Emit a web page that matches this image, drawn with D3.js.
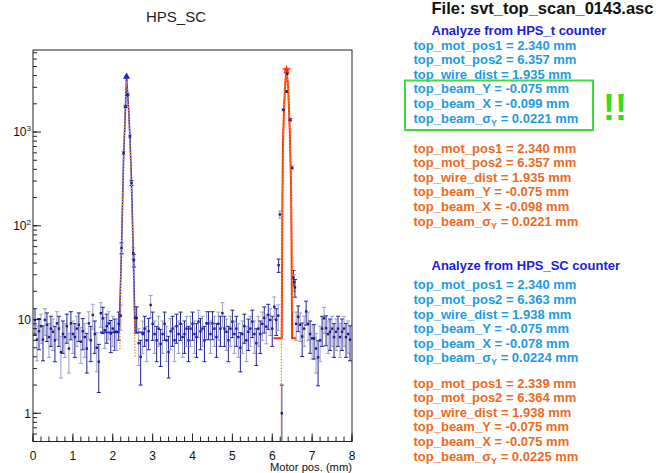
<!DOCTYPE html>
<html><head><meta charset="utf-8">
<script src="https://cdn.jsdelivr.net/npm/d3@7"></script>
<style>
html,body{margin:0;padding:0;background:#fff;}
svg{display:block;font-family:"Liberation Sans",Arial,Helvetica,sans-serif;}
</style></head>
<body>
<svg id="c" width="656" height="473"></svg>
<script>
// ---------------- DATA ----------------
const chartTitle = "HPS_SC";
const xAxisTitle = "Motor pos. (mm)";
const fileTitle = "File: svt_top_scan_0143.asc";
const xTickValues = [0,1,2,3,4,5,6,7,8];
const yTickValues = [1,10,100,1000];
const yTickBase = ["1","10","10","10"];
const yTickExp  = ["","","2","3"];
const scanStep = 0.05;

// baseline scan counts (HPS_SC), regular motor steps
const base1Start = 0.05;
const base1Counts = [9.9,6.1,7.5,8.5,6.1,9.9,8.8,6.5,8,7.4,6,9.1,8,4.5,7,6.5,8.5,4.9,9.1,7,6.5,8,8.8,5.8,7.5,6.5,4.9,9.1,6,11.2,7,5,3.55,11.7,10.3,7.7,8.5,9.1,7.1,8,7.4,7.4,9];
const base2Start = 2.60;
const base2Counts = [10.4,5.6,4.0,7,8,6,7.5,14.3,9,7,6,8,5.5,7,9,6,4.5,7.5,8,6,8.5,7,9,6.5,7,8,6,8,9,7,6.5,9.5,7.5,8,6,9.1,9.1,7,9.1,8,6.5,9,8,11.7,8,7.4,6,8,9.5,7,8,6.5,5,7,8.5,6,7.4,8,9.5,7,5.6,8,7,9,10.4,8.4,11.2,9.9,8,13.7,9.9,11];
const base3Start = 6.60;
const base3Counts = [9,10.7,8.8,6.6,8,12.2,9,7,6.3,6.3,4.9,3.95,6,8,10.3,8.1,7,7.4,8,6.5,7.4,8,6.5,7.4,8,6.5,7,6.1];

// points in the peak regions
const peak1Pos    = [2.20,2.22,2.27,2.32,2.345,2.37,2.43,2.47,2.515,2.53,2.56];
const peak1Counts = [11,58,600,1870,3900,2500,900,286,51,43,10.4];
const peak2Pos    = [6.16,6.19,6.24,6.28,6.36,6.375,6.45,6.50,6.53,6.55,6.57];
const peak2Counts = [38,132,1,1726,2700,4200,1350,415,28,25,22];

// fit curves
const blueFitX = [1.68,2.157,2.19,2.22,2.27,2.32,2.345,2.37,2.40,2.43,2.46,2.49,2.515,2.54,2.558,2.575,2.81];
const blueFitY = [7.3,7.3,20,58,500,1870,3900,2700,1700,900,400,140,51,18,7.5,7.3,7.3];
const redFitX = [6.03,6.237,6.245,6.255,6.27,6.30,6.33,6.36,6.40,6.44,6.47,6.485,6.493,6.50,6.60];
const redFitY = [6.3,6.3,30,200,800,2000,3500,4600,3000,1000,300,60,15,6.3,6.3];
const orange1X = [2.18,2.185,2.22,2.28,2.32,2.34,2.37,2.41,2.45,2.48,2.51,2.54,2.56];
const orange1Y = [4.8,16,60,700,2300,3500,2700,1300,450,160,50,12,4];
const orange2X = [6.225,6.23,6.245,6.26,6.29,6.33,6.36,6.40,6.44,6.47,6.49,6.50,6.505];
const orange2Y = [0.3,6,40,250,1200,3500,4300,3000,1100,350,80,30,12];

// text panel
const headingT = "Analyze from HPS_t counter";
const headingSC = "Analyze from HPS_SC counter";
const labelsT_cyan   = ["top_mot_pos1 = 2.340 mm","top_mot_pos2 = 6.357 mm","top_wire_dist = 1.935 mm","top_beam_Y = -0.075 mm","top_beam_X = -0.099 mm",["top_beam_σ","Y"," = 0.0221 mm"]];
const labelsT_orange = ["top_mot_pos1 = 2.340 mm","top_mot_pos2 = 6.357 mm","top_wire_dist = 1.935 mm","top_beam_Y = -0.075 mm","top_beam_X = -0.098 mm",["top_beam_σ","Y"," = 0.0221 mm"]];
const labelsSC_cyan   = ["top_mot_pos1 = 2.340 mm","top_mot_pos2 = 6.363 mm","top_wire_dist = 1.938 mm","top_beam_Y = -0.075 mm","top_beam_X = -0.078 mm",["top_beam_σ","Y"," = 0.0224 mm"]];
const labelsSC_orange = ["top_mot_pos1 = 2.339 mm","top_mot_pos2 = 6.364 mm","top_wire_dist = 1.938 mm","top_beam_Y = -0.075 mm","top_beam_X = -0.075 mm",["top_beam_σ","Y"," = 0.0225 mm"]];

// ---------------- BUILD ----------------
const svg = d3.select("#c");
const L = 33, R = 352, T = 50, B = 441.5;
const x = d3.scaleLinear().domain([0,8]).range([L,R]);
const y = d3.scaleLog().domain([0.5,7500]).range([B,T]);

const pts = [];
base1Counts.forEach((v,i)=>pts.push([base1Start+i*scanStep, v]));
peak1Pos.forEach((p,i)=>pts.push([p, peak1Counts[i]]));
base2Counts.forEach((v,i)=>pts.push([base2Start+i*scanStep, v]));
peak2Pos.forEach((p,i)=>pts.push([p, peak2Counts[i]]));
base3Counts.forEach((v,i)=>pts.push([base3Start+i*scanStep, v]));

svg.append("defs").append("clipPath").attr("id","clip")
  .append("rect").attr("x",L).attr("y",T).attr("width",R-L).attr("height",B-T);

const plot = svg.append("g").attr("clip-path","url(#clip)");

// error bars
const eb = plot.append("g");
pts.forEach((p,i)=>{
  const v = p[1], e = Math.sqrt(v);
  const lo = Math.max(v-e, 0.3), hi = v+e;
  const col = (i%2===0) ? "#23238f" : "#9c9cc8";
  const cx = x(p[0]);
  const g = eb.append("g").attr("stroke",col).attr("stroke-width",1);
  g.append("line").attr("x1",cx).attr("x2",cx).attr("y1",y(lo)).attr("y2",y(hi));
  g.append("line").attr("x1",cx-2).attr("x2",cx+2).attr("y1",y(lo)).attr("y2",y(lo));
  g.append("line").attr("x1",cx-2).attr("x2",cx+2).attr("y1",y(hi)).attr("y2",y(hi));
});

const line = d3.line().x(d=>x(d[0])).y(d=>y(d[1]));
plot.append("path").datum(blueFitX.map((v,i)=>[v,blueFitY[i]]))
  .attr("d",line).attr("fill","none").attr("stroke","#2e2ed8").attr("stroke-width",1.6);
plot.append("path").datum(redFitX.map((v,i)=>[v,redFitY[i]]))
  .attr("d",line).attr("fill","none").attr("stroke","#ff2a00").attr("stroke-width",2);
plot.append("path").datum(orange1X.map((v,i)=>[v,orange1Y[i]]))
  .attr("d",line).attr("fill","none").attr("stroke","#ff8c1a").attr("stroke-width",1.3).attr("stroke-dasharray","1.5,1.5");
plot.append("path").datum(orange2X.map((v,i)=>[v,orange2Y[i]]))
  .attr("d",line).attr("fill","none").attr("stroke","#ff8c1a").attr("stroke-width",1.3).attr("stroke-dasharray","1.5,1.5");

// markers
plot.append("g").selectAll("rect").data(pts).join("rect")
  .attr("x",d=>x(d[0])-1.2).attr("y",d=>y(d[1])-1.2).attr("width",2.4).attr("height",2.4)
  .attr("fill","#1c1c88");
plot.append("path").attr("d",d3.symbol(d3.symbolTriangle,22)())
  .attr("transform",`translate(${x(2.345)},${y(3900)})`).attr("fill","#2222cc");
plot.append("path").attr("d",d3.symbol(d3.symbolStar,30)())
  .attr("transform",`translate(${x(6.36)},${y(4600)})`).attr("fill","#ff2a00");

// frame
svg.append("rect").attr("x",L).attr("y",T).attr("width",R-L).attr("height",B-T)
  .attr("fill","none").attr("stroke","#222").attr("stroke-width",1);

// x axis
const xMinor = d3.range(0,8.0001,0.2);
svg.append("g").selectAll("line").data(xMinor).join("line")
  .attr("x1",d=>x(d)).attr("x2",d=>x(d)).attr("y1",B).attr("y2",B-5)
  .attr("stroke","#222");
svg.append("g").selectAll("line").data(xTickValues).join("line")
  .attr("x1",d=>x(d)).attr("x2",d=>x(d)).attr("y1",B).attr("y2",B-8)
  .attr("stroke","#222");
svg.append("g").selectAll("text").data(xTickValues).join("text")
  .attr("x",d=>x(d)).attr("y",459.5).attr("text-anchor","middle")
  .attr("font-size",12).attr("fill","#111").text(d=>d);
svg.append("text").attr("x",R).attr("y",471).attr("text-anchor","end")
  .attr("font-size",11.2).attr("fill","#111").text(xAxisTitle);

// y axis
const yMinor = y.ticks().filter(t=>t>=0.5 && t<=7500);
svg.append("g").selectAll("line").data(yMinor).join("line")
  .attr("x1",L).attr("x2",L+4).attr("y1",d=>y(d)).attr("y2",d=>y(d)).attr("stroke","#222");
svg.append("g").selectAll("line").data(yTickValues).join("line")
  .attr("x1",L).attr("x2",L+8).attr("y1",d=>y(d)).attr("y2",d=>y(d)).attr("stroke","#222");
const yl = svg.append("g").selectAll("text").data(yTickValues).join("text")
  .attr("x",31).attr("y",d=>y(d)+4.3).attr("text-anchor","end")
  .attr("font-size",12).attr("fill","#111");
yl.each(function(d,i){
  const t = d3.select(this);
  t.append("tspan").text(yTickBase[i]);
  if (yTickExp[i]) t.append("tspan").attr("dy",-5).attr("font-size",8).text(yTickExp[i]);
});

// title
svg.append("text").attr("x",176).attr("y",21.5).attr("text-anchor","middle")
  .attr("font-size",15).attr("fill","#222").text(chartTitle);

// ---------------- TEXT PANEL ----------------
svg.append("text").attr("x",431.5).attr("y",13.8).attr("font-size",16.5).attr("font-weight","bold")
  .attr("fill","#111").text(fileTitle);

function heading(txt, yy){
  svg.append("text").attr("x",431.5).attr("y",yy).attr("font-size",13).attr("font-weight","bold")
    .attr("fill","#2020d8").text(txt);
}
function block(lines, y0, col){
  lines.forEach((ln,i)=>{
    const t = svg.append("text").attr("x",413.5).attr("y",y0+i*14.6)
      .attr("font-size",13).attr("font-weight","bold").attr("fill",col);
    if (Array.isArray(ln)) {
      t.append("tspan").text(ln[0]);
      t.append("tspan").attr("dy",3).attr("font-size",9).text(ln[1]);
      t.append("tspan").attr("dy",-3).text(ln[2]);
    } else t.text(ln);
  });
}
const cyan = "#1e9be4", orange = "#ee6a1e";
heading(headingT, 35);
block(labelsT_cyan, 49.5, cyan);
block(labelsT_orange, 152.5, orange);
heading(headingSC, 269.5);
block(labelsSC_cyan, 289.3, cyan);
block(labelsSC_orange, 387.5, orange);

svg.append("rect").attr("x",405).attr("y",80.5).attr("width",188).attr("height",49.5)
  .attr("fill","none").attr("stroke","#3ddc3d").attr("stroke-width",2);
svg.append("text").attr("x",603).attr("y",120).attr("font-size",36).attr("font-weight","bold")
  .attr("fill","#36dd1e").text("!!");
</script>
</body></html>
